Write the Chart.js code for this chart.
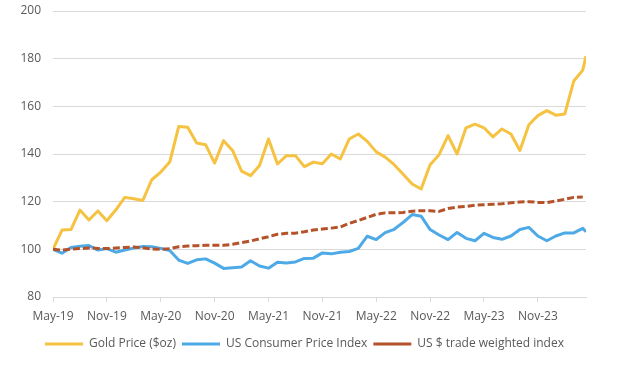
<!DOCTYPE html>
<html><head><meta charset="utf-8">
<script src="https://cdn.jsdelivr.net/npm/chart.js@4.4.1/dist/chart.umd.min.js"></script>
<style>html,body{margin:0;padding:0;background:#fff;}#wrap{width:621px;height:365px;position:relative;}</style>
</head><body><div id="wrap"><canvas id="c"></canvas></div>
<script>
const dates = [
'2019-05-01','2019-06-01','2019-07-01','2019-08-01','2019-09-01','2019-10-01','2019-11-01','2019-12-01',
'2020-01-01','2020-02-01','2020-03-01','2020-04-01','2020-05-01','2020-06-01','2020-07-01','2020-08-01','2020-09-01','2020-10-01','2020-11-01','2020-12-01',
'2021-01-01','2021-02-01','2021-03-01','2021-04-01','2021-05-01','2021-06-01','2021-07-01','2021-08-01','2021-09-01','2021-10-01','2021-11-01','2021-12-01',
'2022-01-01','2022-02-01','2022-03-01','2022-04-01','2022-05-01','2022-06-01','2022-07-01','2022-08-01','2022-09-01','2022-10-01','2022-11-01','2022-12-01',
'2023-01-01','2023-02-01','2023-03-01','2023-04-01','2023-05-01','2023-06-01','2023-07-01','2023-08-01','2023-09-01','2023-10-01','2023-11-01','2023-12-01',
'2024-01-01','2024-02-01','2024-03-01','2024-04-01','2024-04-12'
];
const gold = [
100,108.1,108.3,116.5,112.3,116.1,112.0,116.6,
121.8,121.2,120.5,129.2,132.4,136.6,151.5,151.2,144.6,143.9,136.2,145.6,
141.5,132.8,130.9,135.2,146.3,135.8,139.3,139.3,134.7,136.6,135.9,140.0,
137.9,146.3,148.4,145.3,140.9,138.7,135.5,131.5,127.4,125.3,135.5,139.7,
147.7,140.0,151.0,152.5,151.0,147.2,150.5,148.4,141.5,152.3,156.1,158.2,
156.3,156.8,170.6,175.2,181.1
];
const cpi = [
100,98.4,100.8,101.3,101.6,99.7,100.3,98.8,
99.7,100.5,101.2,101.1,100.4,99.5,95.5,94.1,95.6,96.0,94.2,92.0,
92.3,92.6,95.2,93.0,92.1,94.6,94.3,94.7,96.2,96.3,98.5,98.1,
98.8,99.1,100.4,105.5,104.1,107.0,108.4,111.3,114.6,113.9,108.3,106.0,
104.1,107.1,104.6,103.6,106.7,105.0,104.2,105.6,108.3,109.2,105.6,103.6,
105.6,106.9,106.9,108.8,107.4
];
const usd = [
100,99.7,100.1,100.3,100.6,100.4,100.3,100.6,
100.8,101.0,100.7,100.1,100.0,100.3,101.1,101.4,101.5,101.7,101.7,101.7,
102.1,102.8,103.5,104.4,105.3,106.3,106.7,106.8,107.4,108.1,108.5,108.9,
109.4,110.9,112.1,113.4,114.7,115.3,115.3,115.5,116.0,116.2,116.2,115.9,
117.1,117.7,118.0,118.5,118.7,118.9,119.1,119.5,119.9,120.0,119.7,119.6,
120.3,121.0,121.8,122.0,null
];
const seriesNames = ['Gold Price ($oz)','US Consumer Price Index','US $ trade weighted index'];
const tickDates = ['2019-05-01','2019-11-01','2020-05-01','2020-11-01','2021-05-01','2021-11-01','2022-05-01','2022-11-01','2023-05-01','2023-11-01'];
const tickLabels = ['May-19','Nov-19','May-20','Nov-20','May-21','Nov-21','May-22','Nov-22','May-23','Nov-23'];

function monthPos(s){const p=s.split('-').map(Number);return (p[0]-2019)*12+(p[1]-5)+(p[2]-1)/30.4;}
function pts(arr){return arr.map((v,i)=>({x:monthPos(dates[i]),y:v}));}

const FONT = {family:'"Open Sans", "Liberation Sans", sans-serif', size:12};
const TXT = '#595959';
const GRID = '#d9d9d9';

new Chart(document.getElementById('c'), {
  type:'line',
  data:{datasets:[
    {label:seriesNames[0],data:pts(gold),borderColor:'#F5C242',backgroundColor:'#F5C242',borderWidth:3,order:2},
    {label:seriesNames[1],data:pts(cpi),borderColor:'#4DAAE7',backgroundColor:'#4DAAE7',borderWidth:3,order:1},
    {label:seriesNames[2],data:pts(usd),borderColor:'#B4532A',backgroundColor:'#B4532A',borderWidth:3,borderDash:[7,3],order:0}
  ]},
  options:{
    responsive:true,maintainAspectRatio:false,animation:false,
    layout:{padding:{top:11,right:12,bottom:5,left:0}},
    elements:{line:{tension:0,borderJoinStyle:'round',borderCapStyle:'butt'},point:{radius:0,hoverRadius:0}},
    plugins:{
      tooltip:{enabled:false},
      legend:{position:'bottom',
        labels:{usePointStyle:true,pointStyle:'line',pointStyleWidth:38,boxHeight:12,color:TXT,font:FONT,padding:6,
          sort:(a,b)=>a.datasetIndex-b.datasetIndex}}
    },
    scales:{
      x:{type:'linear',min:0,max:monthPos(dates[dates.length-1]),
        afterBuildTicks:(axis)=>{axis.ticks=tickDates.map(d=>({value:monthPos(d)}));},
        ticks:{autoSkip:false,maxRotation:0,color:TXT,font:FONT,padding:7,callback:(v,i)=>tickLabels[i]},
        grid:{drawOnChartArea:false,drawTicks:true,tickLength:5,color:GRID},
        border:{display:true,color:GRID},
        afterFit:(axis)=>{axis.height+=1.6;axis.paddingRight=35;}
      },
      y:{min:80,max:200,
        ticks:{stepSize:20,color:TXT,font:FONT,padding:12},
        grid:{color:GRID,drawTicks:false},
        border:{display:false},
        afterFit:(axis)=>{axis.width=53;axis.paddingTop=0;axis.paddingBottom=0;}
      }
    }
  }
});
</script></body></html>
